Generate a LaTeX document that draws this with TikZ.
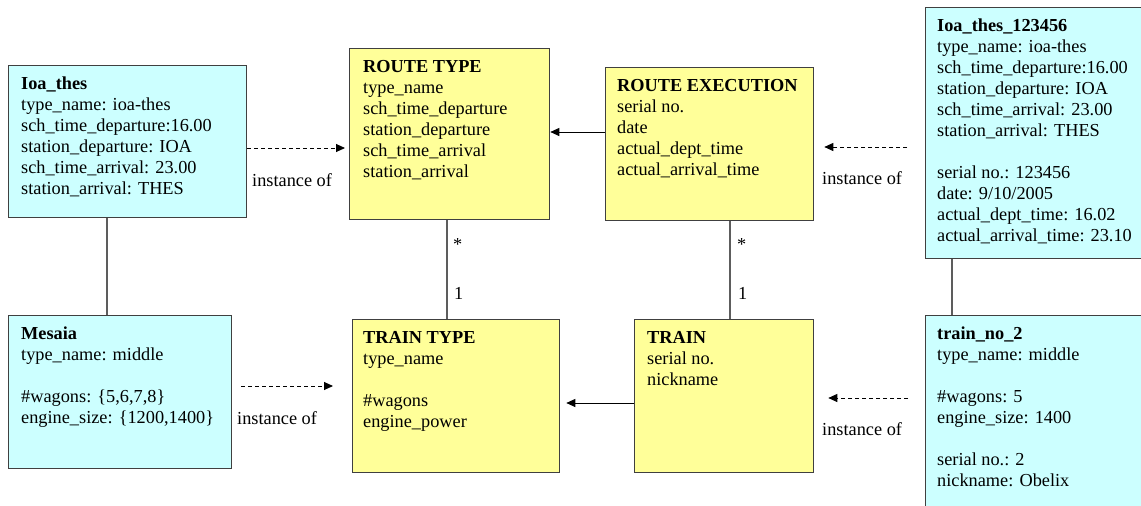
\documentclass[tikz,border=0pt]{standalone}
\usepackage{fontspec}
\setmainfont{Liberation Serif}
\usetikzlibrary{arrows.meta}
\definecolor{objfill}{HTML}{CCFFFF}
\definecolor{clsfill}{HTML}{FFFF99}
\definecolor{edge}{HTML}{404040}
% fixed height for the first line of each box text
\newcommand\topln{\rule{0pt}{13pt}}

\begin{document}
\begin{tikzpicture}[x=1pt,y=-1pt,
  frame/.style={draw=edge, line width=1.3pt, rectangle, inner sep=0pt, anchor=north west},
  objbox/.style={frame, fill=objfill},
  clsbox/.style={frame, fill=clsfill},
  txt/.style={align=left, inner sep=0pt, anchor=north west, font=\fontsize{18.3}{21}\selectfont},
  lbl/.style={inner sep=0pt, anchor=west, font=\fontsize{18.3}{21}\selectfont},
  mult/.style={inner sep=0pt, anchor=base west, font=\fontsize{18.3}{21}\selectfont},
  link/.style={draw=edge!85, line width=1.3pt},
  inst/.style={draw=black, line width=0.9pt, dash pattern=on 4pt off 3pt, -{Triangle[length=9pt,width=8pt]}},
  gen/.style={draw=black, line width=0.9pt, -{Triangle[length=9pt,width=8pt]}},
]
\useasboundingbox (0,0) rectangle (1141,506);
\clip (0,0) rectangle (1141,506);
\fill[white] (0,0) rectangle (1141,506);

% class boxes (yellow) and object boxes (cyan)
\node[objbox, minimum width=238, minimum height=152] (A)  at (8,65)   {};
\node[clsbox, minimum width=200, minimum height=171] (RT) at (349,48) {};
\node[clsbox, minimum width=208, minimum height=153] (RE) at (605,67) {};
\node[objbox, minimum width=223, minimum height=153] (B)  at (8,315)  {};
\node[clsbox, minimum width=207, minimum height=153] (TT) at (352,319) {};
\node[clsbox, minimum width=179, minimum height=153] (TR) at (634,319) {};
\node[objbox, minimum width=240, minimum height=251] (C)  at (925,7)  {};
\node[objbox, minimum width=240, minimum height=220] (D)  at (925,315) {};

% box contents
\node[txt] (At) at ([shift={(13,11)}]A.north west)
  {\topln\textbf{Ioa\_thes}\\type\_name: ioa-thes\\sch\_time\_departure:16.00\\station\_departure: IOA\\sch\_time\_arrival: 23.00\\station\_arrival: THES};
\node[txt] (RTt) at ([shift={(14,11)}]RT.north west)
  {\topln\textbf{ROUTE TYPE}\\type\_name\\sch\_time\_departure\\station\_departure\\sch\_time\_arrival\\station\_arrival};
\node[txt] (REt) at ([shift={(12,11)}]RE.north west)
  {\topln\textbf{ROUTE EXECUTION}\\serial no.\\date\\actual\_dept\_time\\actual\_arrival\_time};
\node[txt] (Bt) at ([shift={(13,11)}]B.north west)
  {\topln\textbf{Mesaia}\\type\_name: middle\\[21pt]\#wagons: \{5,6,7,8\}\\engine\_size: \{1200,1400\}};
\node[txt] (TTt) at ([shift={(11,11)}]TT.north west)
  {\topln\textbf{TRAIN TYPE}\\type\_name\\[21pt]\#wagons\\engine\_power};
\node[txt] (TRt) at ([shift={(13,11)}]TR.north west)
  {\topln\textbf{TRAIN}\\serial no.\\nickname};
\node[txt] (Ct) at ([shift={(12,11)}]C.north west)
  {\topln\textbf{Ioa\_thes\_123456}\\type\_name: ioa-thes\\sch\_time\_departure:16.00\\station\_departure: IOA\\sch\_time\_arrival: 23.00\\station\_arrival: THES\\[21pt]serial no.: 123456\\date: 9/10/2005\\actual\_dept\_time: 16.02\\actual\_arrival\_time: 23.10};
\node[txt] (Dt) at ([shift={(12,11)}]D.north west)
  {\topln\textbf{train\_no\_2}\\type\_name: middle\\[21pt]\#wagons: 5\\engine\_size: 1400\\[21pt]serial no.: 2\\nickname: Obelix};

% associations
\draw[link] (107,0 |- A.south)  -- (107,0 |- B.north);
\draw[link] (447,0 |- RT.south) -- (447,0 |- TT.north);
\draw[link] (730,0 |- RE.south) -- (730,0 |- TR.north);
\draw[link] (952,0 |- C.south)  -- (952,0 |- D.north);

\node[mult] (m1) at (453,250) {*};
\node[mult] (m2) at (454,299) {1};
\node[mult] (m3) at (737,250) {*};
\node[mult] (m4) at (738,299) {1};

% class-to-class references
\draw[gen] (RE.west |- 0,132) -- (RT.east |- 0,132);
\draw[gen, shorten >=6pt] (TR.west |- 0,403) -- (TT.east |- 0,403);

% instance-of links
\draw[inst, shorten >=4pt] (A.east |- 0,148) -- (RT.west |- 0,148);
\draw[inst, shorten <=9pt, shorten >=19pt] (B.east |- 0,386) -- (TT.west |- 0,386);
\draw[inst, shorten <=18pt, shorten >=10pt] (C.west |- 0,147) -- (RE.east |- 0,147);
\draw[inst, shorten <=17pt, shorten >=14pt] (D.west |- 0,398) -- (TR.east |- 0,398);

\node[lbl] (l1) at (252,180) {instance of};
\node[lbl] (l2) at (237,418) {instance of};
\node[lbl] (l3) at (822,178) {instance of};
\node[lbl] (l4) at (822,429) {instance of};
\end{tikzpicture}
\end{document}
